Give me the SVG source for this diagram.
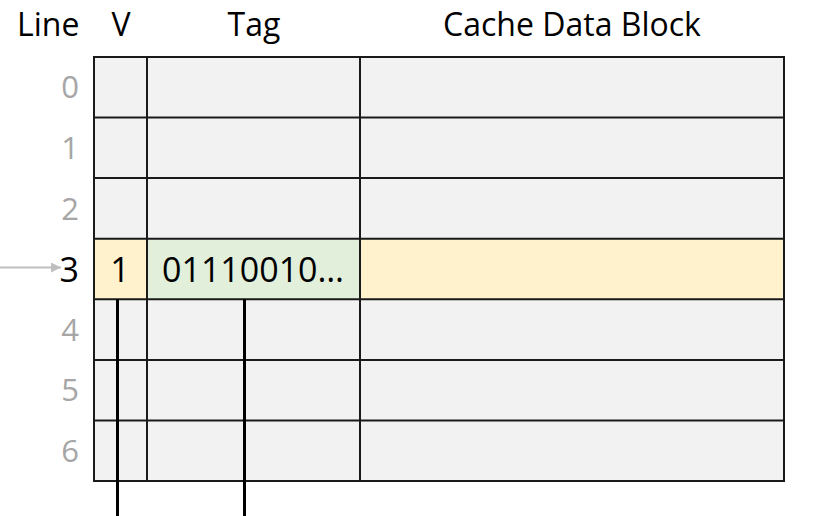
<svg xmlns="http://www.w3.org/2000/svg" width="830" height="516" viewBox="0 0 830 516">
  <style>
    .hdr { font-family: "Open Sans", "Liberation Sans", sans-serif; font-size: 32px; fill: #000; }
    .idx { font-family: "Open Sans", "Liberation Sans", sans-serif; font-size: 31px; fill: #a6a6a6; text-anchor: end; }
    .cell { font-family: "Open Sans", "Liberation Sans", sans-serif; font-size: 34px; fill: #000; }
    .grid { stroke: #1a1a1a; stroke-width: 2; fill: none; }
    .row { fill: #f2f2f2; }
    .wire { stroke: #000; stroke-width: 3; }
  </style>
  <defs>
    <marker id="arrow" viewBox="0 0 10 10" refX="10" refY="5" markerWidth="5" markerHeight="5" orient="auto">
      <path d="M0,0 L10,5 L0,10 z" fill="#bfbfbf"/>
    </marker>
  </defs>

  <rect width="830" height="516" fill="#fff"/>

  <!-- column headers -->
  <g id="headers">
    <text class="hdr" x="17" y="36">Line</text>
    <text class="hdr" x="121" y="36" text-anchor="middle">V</text>
    <text class="hdr" x="254" y="36" text-anchor="middle">Tag</text>
    <text class="hdr" x="572" y="36" text-anchor="middle">Cache Data Block</text>
  </g>

  <!-- cache table -->
  <g id="table">
    <rect class="row" x="94" y="57" width="690" height="424"/>
    <rect x="94" y="238.7" width="690" height="60.6" fill="#fff2cc"/>
    <rect x="147" y="238.7" width="213" height="60.6" fill="#e2efda"/>
    <path class="grid" d="M94,57 H784 V481 H94 Z
      M94,117.6 H784 M94,178.1 H784 M94,238.7 H784 M94,299.3 H784 M94,359.9 H784 M94,420.4 H784
      M147,57 V481 M360,57 V481"/>
  </g>

  <!-- line indices -->
  <g id="indices">
    <text class="idx" x="79" y="98.3">0</text>
    <text class="idx" x="79" y="158.9">1</text>
    <text class="idx" x="79" y="219.5">2</text>
    <text class="cell" x="79" y="281.5" text-anchor="end">3</text>
    <text class="idx" x="79" y="340.6">4</text>
    <text class="idx" x="79" y="401.2">5</text>
    <text class="idx" x="79" y="461.8">6</text>
  </g>

  <!-- contents of line 3 -->
  <g id="line3">
    <text class="cell" x="120" y="281.5" text-anchor="middle">1</text>
    <text class="cell" x="162" y="281.5">01110010…</text>
  </g>

  <!-- connectors -->
  <g id="connectors">
    <line x1="0" y1="267.5" x2="61" y2="267.5" stroke="#bfbfbf" stroke-width="2" marker-end="url(#arrow)"/>
    <line class="wire" x1="117.5" y1="299" x2="117.5" y2="516"/>
    <line class="wire" x1="244.5" y1="299" x2="244.5" y2="516"/>
  </g>
</svg>
